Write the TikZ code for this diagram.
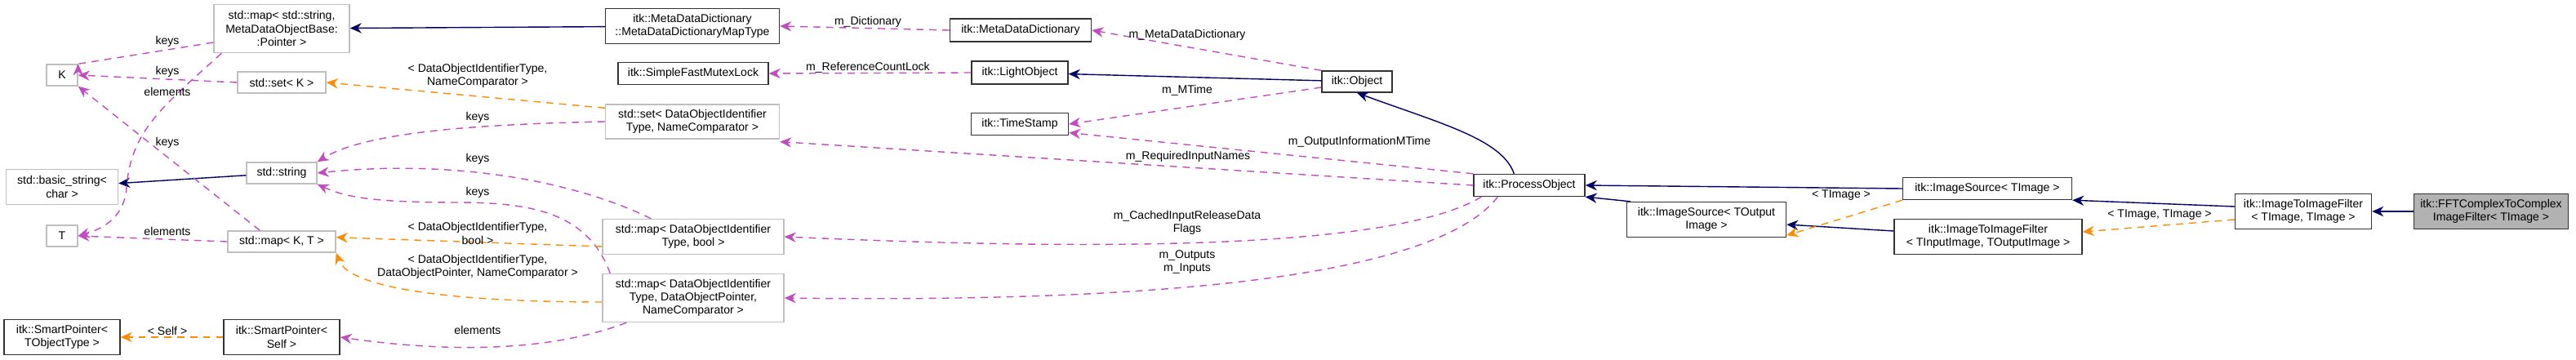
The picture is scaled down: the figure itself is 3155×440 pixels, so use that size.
\documentclass[tikz,border=0pt]{standalone}
\usepackage{fontspec}
\setmainfont{Liberation Sans}
\usetikzlibrary{arrows.meta}
\tikzset{
  cls/.style={draw=black!80, thick, fill=white, inner sep=0pt, align=center, font=\fontsize{8}{9.2}\selectfont},
  ext/.style={draw=black!25, thick, fill=white, inner sep=0pt, align=center, font=\fontsize{8}{9.2}\selectfont},
  w/.style={minimum width=#1*0.02cm},
  h/.style={minimum height=#1*0.02cm},
  inh/.style={draw=blue!40!black, thick, -{Stealth[length=8pt,width=7pt]}},
  use/.style={draw=violet!70!magenta!70, thick, dashed, dash pattern=on 5pt off 4pt, -{Stealth[length=8pt,width=7pt]}},
  tpl/.style={draw=orange!90!yellow, thick, dash pattern=on 5pt off 4pt, -{Stealth[length=8pt,width=7pt]}},
  lbl/.style={font=\fontsize{8}{9.2}\selectfont, align=center, inner sep=1pt}
}
\begin{document}
\begin{tikzpicture}[x=0.02cm, y=-0.02cm]
\useasboundingbox (0,0) rectangle (3155,440);

%classes std

\node[ext, w=38, h=26] (K) at (76,92) {K};
\node[ext, w=38, h=26] (T) at (76,289) {T};
\node[ext, w=137, h=43] (basicstr) at (76,229) {std::basic\_string<\\char >};
\node[cls, w=142, h=43] (spobj) at (76,413) {itk::SmartPointer<\\TObjectType >};
\node[ext, w=166, h=59] (mapmeta) at (345,35) {std::map< std::string,\\MetaDataObjectBase:\\:Pointer >};
\node[ext, w=108, h=26] (setK) at (345,101) {std::set< K >};
\node[ext, w=86, h=26] (string) at (345,212) {std::string};
\node[ext, w=132, h=26] (mapKT) at (345,296) {std::map< K, T >};
\node[cls, w=142, h=43] (spself) at (345,413) {itk::SmartPointer<\\Self >};

%colonne du milieu

\node[cls, w=213, h=43] (maptype) at (848,32) {itk::MetaDataDictionary\\::MetaDataDictionaryMapType};
\node[cls, w=184, h=27] (mutex) at (849,90) {itk::SimpleFastMutexLock};
\node[ext, w=213, h=42] (setname) at (848,149) {std::set< DataObjectIdentifier\\Type, NameComparator >};
\node[ext, w=222, h=43] (mapbool) at (849,290) {std::map< DataObjectIdentifier\\Type, bool >};
\node[ext, w=222, h=59] (mapptr) at (849,365) {std::map< DataObjectIdentifier\\Type, DataObjectPointer,\\NameComparator >};
\node[cls, w=173, h=28] (mdd) at (1250,37) {itk::MetaDataDictionary};
\node[cls, w=118, h=28] (light) at (1249,89) {itk::LightObject};
\node[cls, w=119, h=27] (stamp) at (1249,152) {itk::TimeStamp};
\node[cls, w=86, h=26] (object) at (1662,100) {itk::Object};

%pipeline

\node[cls, w=136, h=27] (process) at (1873,227) {itk::ProcessObject};
\node[cls, w=207, h=27] (srcimg) at (2434,231) {itk::ImageSource< TImage >};
\node[cls, w=195, h=43] (srcout) at (2090,269) {itk::ImageSource< TOutput\\Image >};
\node[cls, w=230, h=43] (filtinout) at (2435,290) {itk::ImageToImageFilter\\< TInputImage, TOutputImage >};
\node[cls, w=167, h=43] (filtimg) at (2821,259) {itk::ImageToImageFilter\\< TImage, TImage >};
\node[cls, w=189, h=43, fill=black!30] (fft) at (3051,259) {itk::FFTComplexToComplex\\ImageFilter< TImage >};

%héritage

\draw[inh] (maptype) -- (mapmeta);
\draw[inh] (string) -- (basicstr);
\draw[inh] (object) -- (light);
\draw[inh] (process.north west) ++(50,0) .. controls (1840,170) and (1760,150) .. (object.south);
\draw[inh] (srcimg.west) -- (process.east);
\draw[inh] (srcout.north west) ++(5,0) -- (process.south east);
\draw[inh] (filtinout.west) ++(0,-7) -- (srcout.east |- 0,275);
\draw[inh] (filtimg.west) ++(0,-6) -- (srcimg.south east);
\draw[inh] (fft) -- (filtimg);

%membres

\draw[use] (mapmeta.west) ++(0,17) -- (K.north east) ++(0,0);
\draw[use] (mapmeta.south west) ++(10,0) .. controls (200,130) and (160,160) .. (155,230) .. controls (152,270) and (120,282) .. (T.east);
\draw[use] (setK.west) -- (K.east);
\draw[use] (mapKT.north west) ++(40,0) -- (K.south east);
\draw[use] (mapKT.west) -- (T.east);
\draw[use] (setname.west) .. controls (600,152) and (450,160) .. (string.north east);
\draw[use] (mapbool.north west) ++(60,0) .. controls (700,220) and (550,195) .. (string.east);
\draw[use] (mapptr.north west) ++(10,0) .. controls (720,260) and (650,248) .. (560,248) .. controls (450,248) and (420,240) .. (string.south east);
\draw[use] (mapptr.south west) ++(30,0) .. controls (650,440) and (500,425) .. (spself.east);
\draw[use] (mdd.west) -- (maptype.east);
\draw[use] (light.west) -- (mutex.east);
\draw[use] (object.north west) -- (mdd.east);
\draw[use] (object.west) ++(0,7) -- (stamp.east);
\draw[use] (process.north west) -- ([yshift=-6]stamp.east);
\draw[use] (process.west) -- ([yshift=-14]setname.east);
\draw[use] (process.south west) ++(10,0) .. controls (1700,310) and (1300,305) .. (mapbool.east);
\draw[use] (process.south west) ++(30,0) .. controls (1750,350) and (1350,370) .. (mapptr.east);

%gabarits

\draw[tpl] (setname.north west) ++(0,5) -- (setK.east);
\draw[tpl] (mapbool.west) ++(0,12) -- ([yshift=3]mapKT.east);
\draw[tpl] (mapptr.west) ++(0,5) .. controls (600,370) and (430,360) .. (mapKT.south east);
\draw[tpl] (spself) -- (spobj);
\draw[tpl] (srcimg.south west) -- ([yshift=-11]srcout.east);
\draw[tpl] (filtimg.west) ++(0,10) -- (filtinout.east |- 0,284);

%étiquettes

\node[lbl] (l1) at (205,51) {keys};
\node[lbl] (l2) at (205,88) {keys};
\node[lbl] (l3) at (205,112) {elements};
\node[lbl] (l4) at (205,175) {keys};
\node[lbl] (l5) at (205,283) {elements};
\node[lbl] (l6) at (585,144) {keys};
\node[lbl] (l7) at (585,195) {keys};
\node[lbl] (l8) at (585,236) {keys};
\node[lbl] (l9) at (585,93) {< DataObjectIdentifierType,\\NameComparator >};
\node[lbl] (l10) at (585,286) {< DataObjectIdentifierType,\\bool >};
\node[lbl] (l11) at (585,327) {< DataObjectIdentifierType,\\DataObjectPointer, NameComparator >};
\node[lbl] (l12) at (205,405) {< Self >};
\node[lbl] (l13) at (585,404) {elements};
\node[lbl] (l14) at (1063,27) {m\_Dictionary};
\node[lbl] (l15) at (1063,83) {m\_ReferenceCountLock};
\node[lbl] (l16) at (1454,43) {m\_MetaDataDictionary};
\node[lbl] (l17) at (1454,111) {m\_MTime};
\node[lbl] (l18) at (1665,174) {m\_OutputInformationMTime};
\node[lbl] (l19) at (1455,192) {m\_RequiredInputNames};
\node[lbl] (l20) at (1454,273) {m\_CachedInputReleaseData\\Flags};
\node[lbl] (l21) at (1454,321) {m\_Outputs\\m\_Inputs};
\node[lbl] (l22) at (2255,239) {< TImage >};
\node[lbl] (l23) at (2645,263) {< TImage, TImage >};
\end{tikzpicture}
\end{document}
